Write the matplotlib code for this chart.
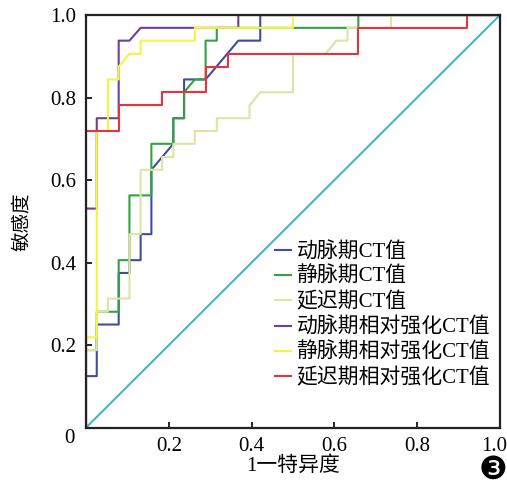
import matplotlib
matplotlib.use("Agg")
import matplotlib.pyplot as plt
from matplotlib.transforms import ScaledTranslation

plt.rcParams['font.family'] = ['Liberation Serif', 'Noto Sans CJK SC', 'DejaVu Sans']

labels = ['动脉期CT值', '静脉期CT值', '延迟期CT值',
          '动脉期相对强化CT值', '静脉期相对强化CT值', '延迟期相对强化CT值']
colors = ['#3b4ea6', '#33a042', '#dfe3a6', '#6b3fa0', '#f4f442', '#e8323c']

# ROC curves (1-specificity, sensitivity)
art_ct_x = [0, 0, 0.026, 0.026, 0.079, 0.079, 0.105, 0.105, 0.132, 0.132, 0.158, 0.158,
            0.211, 0.211, 0.237, 0.237, 0.289, 0.368, 0.421, 0.421, 1]
art_ct_y = [0, 0.125, 0.125, 0.25, 0.25, 0.375, 0.375, 0.406, 0.406, 0.469, 0.469, 0.625,
            0.688, 0.75, 0.75, 0.844, 0.844, 0.938, 0.938, 1, 1]

ven_ct_x = [0, 0, 0.026, 0.026, 0.079, 0.079, 0.105, 0.105, 0.158, 0.158, 0.211, 0.211,
            0.237, 0.237, 0.263, 0.289, 0.289, 0.316, 0.316, 0.658, 0.658, 1]
ven_ct_y = [0, 0.188, 0.188, 0.281, 0.281, 0.406, 0.406, 0.563, 0.563, 0.688, 0.688, 0.75,
            0.75, 0.813, 0.844, 0.844, 0.938, 0.938, 0.969, 0.969, 1, 1]

del_ct_x = [0, 0, 0.026, 0.026, 0.053, 0.053, 0.105, 0.105, 0.132, 0.132, 0.184, 0.184,
            0.211, 0.211, 0.263, 0.263, 0.316, 0.316, 0.395, 0.395, 0.421, 0.5, 0.5,
            0.579, 0.605, 0.632, 0.632, 0.737, 0.737, 1]
del_ct_y = [0, 0.188, 0.188, 0.281, 0.281, 0.313, 0.313, 0.469, 0.469, 0.625, 0.625, 0.656,
            0.656, 0.688, 0.688, 0.719, 0.719, 0.75, 0.75, 0.781, 0.813, 0.813, 0.906,
            0.906, 0.938, 0.938, 0.969, 0.969, 1, 1]

art_rel_x = [0, 0, 0.026, 0.026, 0.079, 0.079, 0.105, 0.132, 0.368, 0.368, 1]
art_rel_y = [0, 0.531, 0.531, 0.75, 0.75, 0.938, 0.938, 0.969, 0.969, 1, 1]

ven_rel_x = [0, 0, 0.026, 0.026, 0.053, 0.053, 0.079, 0.079, 0.105, 0.132, 0.132, 0.263,
             0.263, 0.5, 0.5, 1]
ven_rel_y = [0, 0.219, 0.219, 0.719, 0.719, 0.844, 0.844, 0.875, 0.906, 0.906, 0.938, 0.938,
             0.969, 0.969, 1, 1]

del_rel_x = [0, 0, 0.079, 0.079, 0.184, 0.184, 0.289, 0.289, 0.342, 0.342, 0.658, 0.658,
             0.921, 0.921, 1]
del_rel_y = [0, 0.719, 0.719, 0.781, 0.781, 0.813, 0.813, 0.875, 0.875, 0.906, 0.906, 0.969,
             0.969, 1, 1]

curves = [(art_ct_x, art_ct_y), (ven_ct_x, ven_ct_y), (del_ct_x, del_ct_y),
          (art_rel_x, art_rel_y), (ven_rel_x, ven_rel_y), (del_rel_x, del_rel_y)]

ticks = [0, 0.2, 0.4, 0.6, 0.8, 1.0]
xtick_labels = ['', '0.2', '0.4', '0.6', '0.8', '1.0']
ytick_labels = ['0', '0.2', '0.4', '0.6', '0.8', '1.0']

fig = plt.figure(figsize=(5.07, 4.86), dpi=100)
ax = fig.add_axes([0.1696, 0.12, 0.8164, 0.849])

ax.plot([0, 1], [0, 1], color='#45b5c6', linewidth=1.5)
for (xs, ys), lab, col in zip(curves, labels, colors):
    ax.plot(xs, ys, color=col, linewidth=1.5, label=lab)

ax.set_xlim(0, 1)
ax.set_ylim(0, 1)
ax.set_xticks(ticks)
ax.set_xticklabels(xtick_labels)
ax.set_yticks(ticks)
ax.set_yticklabels(ytick_labels)
ax.tick_params(direction='in', length=4, width=1.2, labelsize=15, pad=7)
for s in ax.spines.values():
    s.set_linewidth(1.6)
    s.set_color('#222222')

# last x label sits a little left so it stays inside the figure, "0" sits low at the corner
last = ax.get_xticklabels()[-1]
last.set_transform(last.get_transform() + ScaledTranslation(-0.06, 0, fig.dpi_scale_trans))
zero = ax.get_yticklabels()[0]
zero.set_transform(zero.get_transform() + ScaledTranslation(-0.02, -0.08, fig.dpi_scale_trans))

ax.set_xlabel('1一特异度', fontsize=15, labelpad=0)
ax.set_ylabel('敏感度', fontsize=14, labelpad=14)

ax.legend(loc='upper left', bbox_to_anchor=(0.436, 0.47), frameon=False, fontsize=15,
          handlelength=0.8, handletextpad=0.24, labelspacing=0.25, borderaxespad=0)

fig.text(0.972, 0.032, '❸', fontsize=23, family='DejaVu Sans', ha='center', va='center')

fig.savefig('out.png', dpi=100)
